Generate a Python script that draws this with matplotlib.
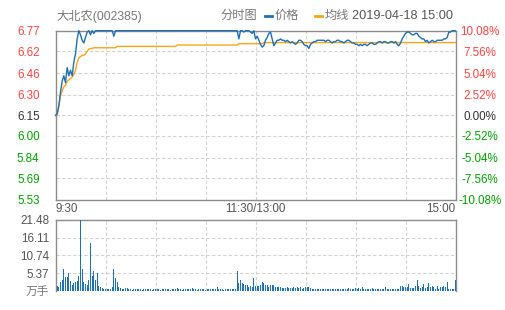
import matplotlib
matplotlib.use("Agg")
import matplotlib.pyplot as plt
from matplotlib.lines import Line2D
import numpy as np

plt.rcParams['font.family'] = ['Liberation Sans', 'Noto Sans CJK SC', 'DejaVu Sans']

# 分时数据 (9:30 ~ 15:00, 241 points)
price = [
    6.15, 6.16, 6.22, 6.32, 6.40, 6.44, 6.39, 6.50, 6.44, 6.48,
    6.44, 6.54, 6.60, 6.71, 6.77, 6.74, 6.70, 6.68, 6.72, 6.76,
    6.77, 6.74, 6.77, 6.75, 6.77, 6.77, 6.77, 6.77, 6.77, 6.77,
    6.77, 6.77, 6.77, 6.77, 6.77, 6.73, 6.77, 6.77, 6.77, 6.77,
    6.77, 6.77, 6.77, 6.77, 6.77, 6.77, 6.77, 6.77, 6.77, 6.77,
    6.77, 6.77, 6.77, 6.77, 6.77, 6.77, 6.77, 6.77, 6.77, 6.77,
    6.77, 6.77, 6.77, 6.77, 6.77, 6.77, 6.77, 6.77, 6.77, 6.77,
    6.77, 6.77, 6.77, 6.77, 6.77, 6.77, 6.77, 6.77, 6.77, 6.77,
    6.77, 6.77, 6.77, 6.77, 6.77, 6.77, 6.77, 6.77, 6.77, 6.77,
    6.77, 6.77, 6.77, 6.77, 6.77, 6.77, 6.77, 6.77, 6.77, 6.77,
    6.77, 6.77, 6.77, 6.77, 6.77, 6.77, 6.77, 6.77, 6.77, 6.77,
    6.71, 6.77, 6.77, 6.76, 6.77, 6.77, 6.77, 6.76, 6.75, 6.77,
    6.71, 6.73, 6.70, 6.67, 6.65, 6.66, 6.70, 6.72, 6.75, 6.76,
    6.71, 6.66, 6.68, 6.70, 6.70, 6.71, 6.70, 6.70, 6.69, 6.70,
    6.69, 6.68, 6.69, 6.68, 6.67, 6.68, 6.70, 6.70, 6.69, 6.67,
    6.66, 6.66, 6.64, 6.67, 6.68, 6.69, 6.69, 6.70, 6.70, 6.70,
    6.70, 6.70, 6.69, 6.70, 6.70, 6.69, 6.68, 6.69, 6.69, 6.70,
    6.70, 6.69, 6.69, 6.68, 6.69, 6.70, 6.70, 6.69, 6.68, 6.68,
    6.67, 6.67, 6.66, 6.67, 6.66, 6.67, 6.67, 6.66, 6.67, 6.68,
    6.68, 6.67, 6.67, 6.68, 6.69, 6.69, 6.68, 6.69, 6.69, 6.68,
    6.68, 6.69, 6.69, 6.68, 6.69, 6.67, 6.66, 6.68, 6.71, 6.73,
    6.75, 6.76, 6.76, 6.75, 6.74, 6.74, 6.75, 6.75, 6.73, 6.72,
    6.71, 6.71, 6.69, 6.70, 6.68, 6.69, 6.70, 6.69, 6.69, 6.70,
    6.70, 6.70, 6.70, 6.71, 6.71, 6.72, 6.76, 6.76, 6.77, 6.77,
    6.77,
]

avg_price = [
    6.150, 6.155, 6.220, 6.290, 6.330, 6.360, 6.370, 6.400, 6.410, 6.420,
    6.430, 6.450, 6.480, 6.540, 6.570, 6.580, 6.590, 6.590, 6.600, 6.620,
    6.635, 6.640, 6.640, 6.645, 6.645, 6.645, 6.645, 6.645, 6.645, 6.645,
    6.645, 6.645, 6.645, 6.645, 6.645, 6.645, 6.645, 6.655, 6.655, 6.655,
    6.655, 6.655, 6.655, 6.655, 6.655, 6.655, 6.655, 6.655, 6.655, 6.655,
    6.655, 6.655, 6.655, 6.655, 6.655, 6.655, 6.655, 6.655, 6.655, 6.655,
    6.655, 6.655, 6.655, 6.655, 6.655, 6.655, 6.655, 6.655, 6.655, 6.655,
    6.655, 6.655, 6.655, 6.665, 6.665, 6.665, 6.665, 6.665, 6.665, 6.665,
    6.665, 6.665, 6.665, 6.665, 6.665, 6.665, 6.665, 6.665, 6.665, 6.665,
    6.665, 6.665, 6.665, 6.665, 6.665, 6.665, 6.665, 6.665, 6.665, 6.665,
    6.665, 6.665, 6.665, 6.665, 6.665, 6.665, 6.665, 6.665, 6.665, 6.665,
    6.675, 6.675, 6.675, 6.675, 6.675, 6.675, 6.675, 6.675, 6.675, 6.675,
    6.675, 6.675, 6.675, 6.675, 6.675, 6.683, 6.683, 6.683, 6.683, 6.683,
    6.683, 6.683, 6.683, 6.683, 6.683, 6.683, 6.683, 6.683, 6.683, 6.683,
    6.683, 6.683, 6.683, 6.683, 6.683, 6.683, 6.683, 6.683, 6.683, 6.683,
    6.683, 6.683, 6.683, 6.683, 6.683, 6.683, 6.683, 6.683, 6.683, 6.683,
    6.683, 6.683, 6.683, 6.683, 6.683, 6.683, 6.683, 6.683, 6.683, 6.683,
    6.683, 6.683, 6.683, 6.683, 6.683, 6.683, 6.683, 6.683, 6.683, 6.683,
    6.683, 6.683, 6.683, 6.683, 6.683, 6.683, 6.683, 6.683, 6.683, 6.683,
    6.683, 6.683, 6.683, 6.683, 6.683, 6.683, 6.683, 6.683, 6.683, 6.683,
    6.683, 6.683, 6.683, 6.683, 6.683, 6.683, 6.683, 6.683, 6.683, 6.683,
    6.683, 6.683, 6.683, 6.683, 6.683, 6.683, 6.683, 6.683, 6.683, 6.683,
    6.683, 6.683, 6.683, 6.683, 6.683, 6.683, 6.683, 6.683, 6.683, 6.683,
    6.683, 6.683, 6.683, 6.683, 6.683, 6.683, 6.683, 6.683, 6.683, 6.683,
    6.683,
]

# 成交量 (万手)
volume = [
    2.8, 1.4, 1.0, 2.6, 3.3, 6.5, 4.1, 4.3, 5.5, 2.8,
    1.7, 2.3, 2.6, 2.8, 4.6, 21.48, 6.5, 2.6, 2.1, 1.7,
    3.4, 14.5, 4.6, 6.1, 3.1, 5.3, 1.4, 1.2, 0.7, 0.5,
    0.4, 0.6, 0.5, 0.4, 1.2, 6.6, 3.8, 2.6, 1.2, 0.9,
    0.6, 0.6, 0.8, 0.7, 0.4, 0.4, 0.3, 0.4, 0.4, 0.5,
    0.4, 0.4, 0.3, 0.4, 0.4, 0.4, 0.5, 0.4, 0.3, 0.4,
    0.4, 0.4, 0.4, 0.3, 0.4, 0.5, 0.4, 0.4, 0.4, 0.3,
    0.4, 0.4, 0.4, 0.7, 0.4, 0.4, 0.3, 0.4, 0.4, 0.4,
    0.4, 0.5, 0.9, 0.4, 0.4, 0.3, 0.4, 0.4, 0.4, 0.4,
    0.3, 0.4, 0.4, 0.4, 0.5, 0.4, 0.4, 1.2, 0.4, 0.4,
    0.4, 0.3, 0.4, 0.4, 0.4, 0.5, 0.4, 0.4, 0.4, 6.1,
    2.2, 3.1, 2.4, 2.0, 1.7, 1.7, 1.2, 1.4, 1.2, 3.8,
    1.4, 1.4, 1.4, 1.7, 2.6, 2.3, 1.8, 1.7, 1.0, 1.7,
    1.7, 1.8, 1.0, 1.2, 1.2, 1.0, 0.7, 0.7, 0.7, 1.0,
    0.7, 0.7, 0.7, 1.0, 0.7, 1.2, 0.7, 1.0, 0.4, 0.7,
    1.0, 1.2, 1.0, 0.7, 0.4, 0.4, 0.4, 0.4, 0.4, 0.4,
    0.4, 0.4, 0.4, 0.4, 0.4, 0.4, 0.4, 0.4, 0.4, 0.4,
    0.4, 0.4, 0.5, 0.4, 0.4, 0.4, 0.7, 0.4, 0.4, 0.4,
    0.7, 0.4, 0.7, 0.4, 1.0, 0.4, 0.4, 0.4, 0.4, 0.4,
    0.7, 0.4, 0.4, 0.4, 0.4, 0.4, 0.4, 0.4, 1.2, 0.4,
    0.4, 0.4, 0.4, 0.4, 0.4, 0.5, 0.4, 1.3, 1.5, 1.0,
    1.2, 1.2, 2.0, 0.8, 0.7, 0.8, 1.4, 3.4, 1.5, 0.7,
    1.2, 2.0, 0.8, 1.0, 2.3, 1.0, 1.5, 1.2, 0.5, 1.3,
    0.5, 1.0, 1.0, 1.3, 1.0, 2.5, 0.5, 0.4, 0.4, 0.4,
    3.4,
]

price_ticks = [6.77, 6.62, 6.46, 6.30, 6.15, 6.00, 5.84, 5.69, 5.53]
pct_labels = ['10.08%', '7.56%', '5.04%', '2.52%', '0.00%',
              '-2.52%', '-5.04%', '-7.56%', '-10.08%']
vol_ticks = [0, 5.37, 10.74, 16.11, 21.48]
vol_labels = ['万手', '5.37', '10.74', '16.11', '21.48']
time_ticks = [0, 120, 240]
time_labels = ['9:30', '11:30/13:00', '15:00']
grid_minutes = [30, 60, 90, 120, 150, 180, 210]
prev_close = 6.15

BLUE = '#1f6fb4'
ORANGE = '#f9a51a'
RED = '#ff4444'
GREEN = '#00a000'
FRAME = '#8c8c8c'
GRID = '#d2d2d2'

x = np.arange(len(price))

fig = plt.figure(figsize=(5.05, 3.10), dpi=100)
ax = fig.add_axes([55.5 / 505, 110 / 310, 400 / 505, 169.3 / 310])
axv = fig.add_axes([55.5 / 505, 19.3 / 310, 400 / 505, 70.7 / 310])

# --- 价格 ---
ax.set_xlim(0, 240)
ax.set_ylim(price_ticks[-1], price_ticks[0])
for m in grid_minutes:
    ax.axvline(m, color=GRID, lw=0.8, ls=(0, (3, 2)), zorder=1)
for p in price_ticks[1:-1]:
    ax.axhline(p, color=GRID, lw=0.8, ls=(0, (3, 2)), zorder=1)
ax.plot(x, avg_price, color=ORANGE, lw=1.0, zorder=3, clip_on=False)
ax.plot(x, price, color=BLUE, lw=1.0, zorder=4, clip_on=False)

for s in ax.spines.values():
    s.set_color(FRAME)
    s.set_linewidth(1.0)

ax.set_yticks(price_ticks)
ax.set_yticklabels(['%.2f' % p for p in price_ticks])
ax.tick_params(axis='y', length=0, pad=11.5, labelsize=8.4)
for lab, p in zip(ax.get_yticklabels(), price_ticks):
    lab.set_color(RED if p > prev_close else (GREEN if p < prev_close else '#333333'))

ax.set_xticks(time_ticks)
ax.set_xticklabels(time_labels)
ax.tick_params(axis='x', length=0, pad=2.5, labelsize=8.4, colors='#555555')
for lab, ha in zip(ax.get_xticklabels(), ['left', 'center', 'right']):
    lab.set_ha(ha)

axr = ax.twinx()
axr.set_ylim(ax.get_ylim())
axr.set_yticks(price_ticks)
axr.set_yticklabels(pct_labels)
axr.tick_params(axis='y', length=0, pad=17.6, labelsize=8.4)
for lab, p in zip(axr.get_yticklabels(), price_ticks):
    lab.set_ha('center')
    lab.set_color(RED if p > prev_close else (GREEN if p < prev_close else '#333333'))
for s in axr.spines.values():
    s.set_visible(False)

# --- 成交量 ---
axv.set_xlim(0, 240)
axv.set_ylim(0, vol_ticks[-1])
for m in grid_minutes:
    axv.axvline(m, color=GRID, lw=0.8, ls=(0, (3, 2)), zorder=1)
for v in vol_ticks[1:-1]:
    axv.axhline(v, color=GRID, lw=0.8, ls=(0, (3, 2)), zorder=1)
axv.bar(x, volume, width=0.7, color=BLUE, zorder=3, antialiased=False)
for name, s in axv.spines.items():
    s.set_color(FRAME)
    s.set_linewidth(1.0)
axv.spines['bottom'].set_visible(False)
axv.set_xticks([])
axv.set_yticks(vol_ticks)
axv.set_yticklabels(vol_labels)
axv.tick_params(axis='y', length=0, pad=4.5, labelsize=8.4, colors='#555555')
axv.get_yticklabels()[0].set_color('#777777')

# --- 标题 / 图例 ---
ty = 1 - 16 / 310
fig.text(56 / 505, ty, '大北农(002385)', fontsize=8.8, color='#777777', va='center')
fig.text(220 / 505, ty, '分时图', fontsize=8.8, color='#777777', va='center')
fig.add_artist(Line2D([265 / 505, 272 / 505], [ty, ty], color=BLUE, lw=2))
fig.text(275 / 505, ty, '价格', fontsize=8.8, color='#777777', va='center')
fig.add_artist(Line2D([315 / 505, 322 / 505], [ty, ty], color=ORANGE, lw=2))
fig.text(325 / 505, ty, '均线', fontsize=8.8, color='#777777', va='center')
fig.text(352 / 505, ty, '2019-04-18 15:00', fontsize=9.2, color='#555555', va='center')

fig.savefig('out.png', dpi=100)
